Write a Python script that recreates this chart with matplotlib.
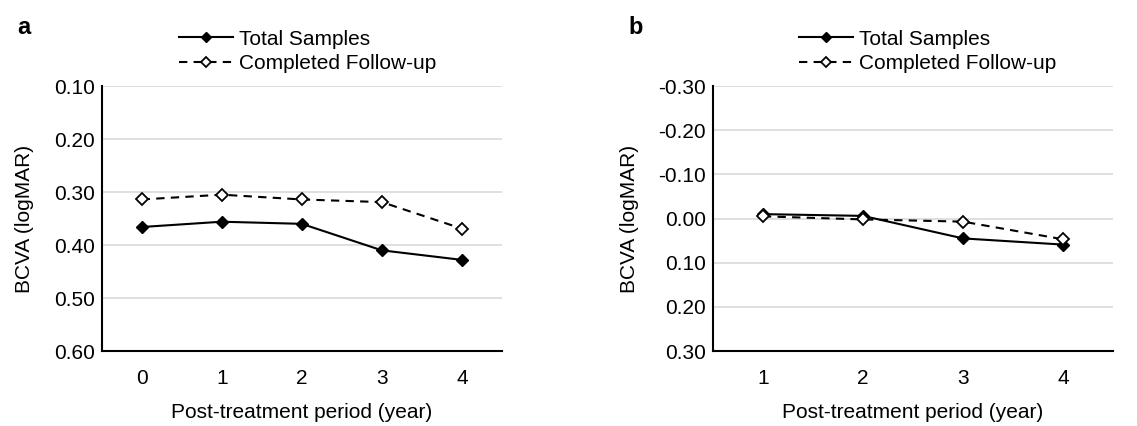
import numpy as np
import matplotlib.pyplot as plt
from matplotlib.ticker import FuncFormatter

plt.rcParams['font.family'] = ['Liberation Sans', 'DejaVu Sans']
plt.rcParams['font.size'] = 15

# panel a
years_a = [0, 1, 2, 3, 4]
total_a = [0.366, 0.356, 0.360, 0.410, 0.428]
completed_a = [0.314, 0.305, 0.314, 0.319, 0.369]

# panel b
years_b = [1, 2, 3, 4]
total_b = [-0.010, -0.006, 0.045, 0.059]
completed_b = [-0.005, 0.002, 0.007, 0.047]

yticks_a = [0.10, 0.20, 0.30, 0.40, 0.50, 0.60]
yticks_b = [-0.30, -0.20, -0.10, 0.00, 0.10, 0.20, 0.30]


def fmt(v, pos):
    v = round(v, 2)
    if v == 0:
        v = 0.0
    return f"{v:.2f}"


def draw(ax, years, total, completed, yticks, letter, leg_x):
    x = np.arange(len(years))
    ax.plot(x, total, color='black', lw=1.5, marker='D', ms=6,
            mfc='black', mec='black', label='Total Samples', zorder=3)
    ax.plot(x, completed, color='black', lw=1.5, ls=(0, (4, 3)), marker='D', ms=6,
            mfc='white', mec='black', mew=1.3, label='Completed Follow-up', zorder=3)
    ax.set_xlim(-0.5, len(years) - 0.5)
    ax.set_xticks(x)
    ax.set_xticklabels([str(y) for y in years])
    ax.set_yticks(yticks)
    ax.set_ylim(yticks[-1], yticks[0])
    ax.yaxis.set_major_formatter(FuncFormatter(fmt))
    ax.grid(axis='y', color='#d9d9d9', lw=1.2)
    ax.set_axisbelow(True)
    for s in ['top', 'right']:
        ax.spines[s].set_visible(False)
    for s in ['left', 'bottom']:
        ax.spines[s].set_linewidth(1.5)
    ax.tick_params(axis='y', length=0, pad=5)
    ax.tick_params(axis='x', length=0, pad=13)
    ax.set_xlabel('Post-treatment period (year)', labelpad=11)
    ax.set_ylabel('BCVA (logMAR)', labelpad=14)
    ax.legend(loc='lower center', bbox_to_anchor=(leg_x, 1.01), frameon=False,
              handlelength=2.6, handletextpad=0.3, labelspacing=0.25,
              borderpad=0.0, fontsize=15, markerscale=0.85)
    ax.text(-0.21, 1.22, letter, transform=ax.transAxes, fontsize=17,
            fontweight='bold', va='center')


fig = plt.figure(figsize=(11.37, 4.26), dpi=100)
ax1 = fig.add_axes([0.0894, 0.176, 0.352, 0.622])
ax2 = fig.add_axes([0.627, 0.176, 0.352, 0.622])

draw(ax1, years_a, total_a, completed_a, yticks_a, 'a', 0.515)
draw(ax2, years_b, total_b, completed_b, yticks_b, 'b', 0.537)

fig.savefig('out.png', dpi=100, facecolor='white')
